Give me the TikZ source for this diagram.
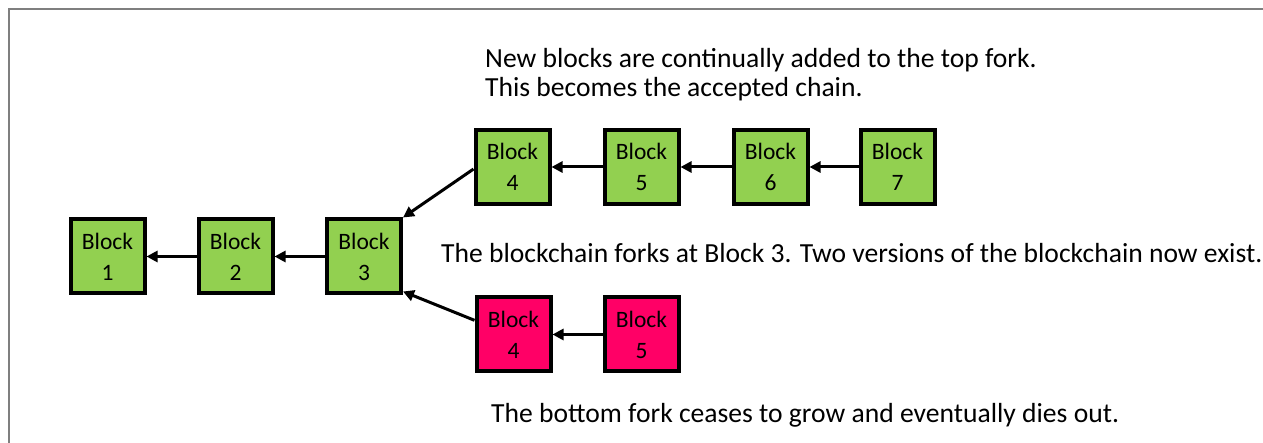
\documentclass[tikz,border=0pt]{standalone}
\usepackage{fontspec}
\setmainfont{Carlito}
\usetikzlibrary{arrows.meta}
\definecolor{chaingreen}{HTML}{92D050}
\definecolor{forkpink}{HTML}{FF0066}
\definecolor{framegray}{HTML}{7F7F7F}
\tikzset{
  blockbox/.style={draw=black, line width=4bp, minimum width=74bp, minimum height=74bp,
    inner sep=0pt, align=center, font=\fontsize{23.5bp}{31bp}\selectfont},
  goodblock/.style={blockbox, fill=chaingreen},
  badblock/.style={blockbox, fill=forkpink},
  link/.style={line width=3bp, -{Triangle[length=11bp,width=11bp]}},
  caption/.style={anchor=base west, inner sep=0pt, font=\fontsize{27.6bp}{33bp}\selectfont}
}
\begin{document}
\begin{tikzpicture}[x=1bp,y=-1bp]
\useasboundingbox (0,0) rectangle (1263,443);
% frame edges
\draw[framegray, line width=2bp] (9,443) -- (9,9) -- (1263,9);

% main chain
\node[goodblock] (b1) at (107.5,256.5) {Block\\1};
\node[goodblock] (b2) at (235.5,256.5) {Block\\2};
\node[goodblock] (b3) at (364,256.5) {Block\\3};

% top fork
\node[goodblock] (t4) at (512.5,167) {Block\\4};
\node[goodblock] (t5) at (641.5,167) {Block\\5};
\node[goodblock] (t6) at (770.5,167) {Block\\6};
\node[goodblock] (t7) at (897.5,167) {Block\\7};

% bottom fork
\node[badblock] (u4) at (513.5,334.5) {Block\\4};
\node[badblock] (u5) at (641.5,334.5) {Block\\5};

% links point back to the parent block
\draw[link] (b2.west) -- (b1.east);
\draw[link] (b3.west) -- (b2.east);
\draw[link] (t4.183) -- (b3.north east);
\draw[link] (t5.west) -- (t4.east);
\draw[link] (t6.west) -- (t5.east);
\draw[link] (t7.west) -- (t6.east);
\draw[link] (u4.160) -- ([yshift=4bp]b3.south east);
\draw[link] (u5.west) -- (u4.east);

% captions
\node[caption] (c1) at (485,68) {New blocks are continually added to the top fork.};
\node[caption] (c2) at (485,96.5) {This becomes the accepted chain.};
\node[caption] (c3) at (441,263) {The blockchain forks at Block 3. Two versions of the blockchain now exist.};
\node[caption] (c4) at (491,423) {The bottom fork ceases to grow and eventually dies out.};
\end{tikzpicture}
\end{document}
